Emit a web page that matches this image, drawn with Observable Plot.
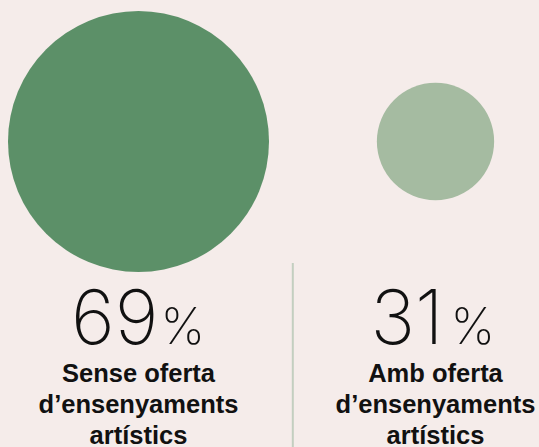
<!DOCTYPE html>
<html>
<head>
<meta charset="utf-8">
<script src="https://cdn.jsdelivr.net/npm/d3@7"></script>
<script src="https://cdn.jsdelivr.net/npm/@observablehq/plot@0.6"></script>
<style>
  html, body { margin: 0; padding: 0; background: #f5ecea; }
  #chart svg { display: block; }
</style>
</head>
<body>
<div id="chart"></div>
<script>
const categories = ["Sense oferta", "Amb oferta"];
const values = [69, 31];
const labels = ["Sense oferta\nd’ensenyaments\nartístics", "Amb oferta\nd’ensenyaments\nartístics"];
const colors = ["#5c9068", "#a5bba1"];

const data = categories.map((c, i) => ({category: c, value: values[i], label: labels[i], num: String(values[i])}));

// horizontal offsets of the number / percent sign relative to each column centre (styling)
const numDx = [20, 8];
const pctDx = [22, 15];

const numStyle = {frameAnchor: "top", dy: 343, lineAnchor: "bottom", fontWeight: 200, fontFamily: "Inter", fill: "#111"};

const chart = Plot.plot({
  width: 539,
  height: 447,
  margin: 0,
  style: {background: "#f5ecea"},
  x: {type: "point", domain: categories, range: [138, 435], padding: 0, axis: null},
  r: {type: "linear", domain: [0, 69], range: [0, 130.5]},
  color: {domain: categories, range: colors},
  marks: [
    Plot.ruleX([categories[0]], {dx: 154.3, insetTop: 263, stroke: "#c3cfc0", strokeWidth: 2}),
    Plot.dot(data, {x: "category", r: "value", fill: "category", frameAnchor: "top", dy: 141}),
    ...data.map((d, i) => Plot.text([d], {x: "category", text: "num", textAnchor: "end", dx: numDx[i], fontSize: 75, ...numStyle})),
    ...data.map((d, i) => Plot.text([d], {x: "category", text: () => "%", textAnchor: "start", dx: pctDx[i], fontSize: 50, ...numStyle})),
    Plot.text(data, {x: "category", text: "label", frameAnchor: "top", dy: 359.7, lineAnchor: "top", lineHeight: 1.216, fontSize: 25.5, fontWeight: "bold", fontFamily: "Liberation Sans", fill: "#111"})
  ]
});
document.getElementById("chart").appendChild(chart);
</script>
</body>
</html>
